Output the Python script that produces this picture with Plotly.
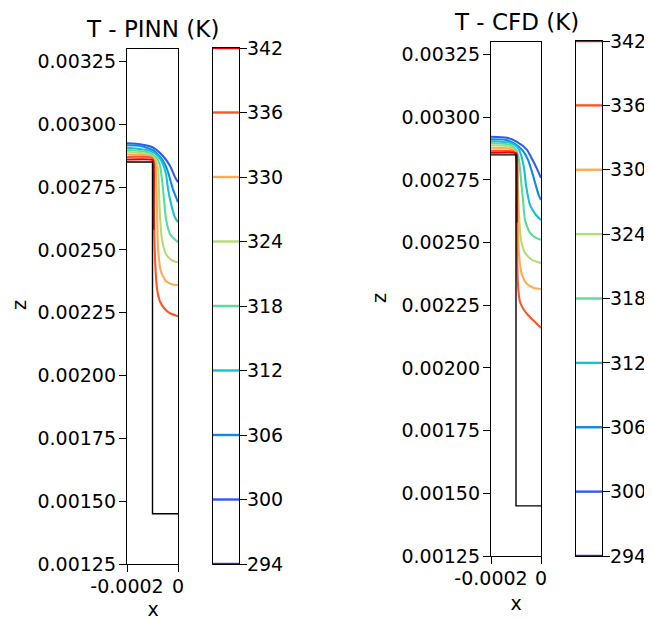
import plotly.graph_objects as go

# ---------------- data ----------------
levels = [294, 300, 306, 312, 318, 324, 330, 336, 342]
titles = ["T - PINN (K)", "T - CFD (K)"]
z_ticks = [0.00125, 0.00150, 0.00175, 0.00200, 0.00225, 0.00250, 0.00275, 0.00300, 0.00325]
z_tick_text = ["0.00125", "0.00150", "0.00175", "0.00200", "0.00225", "0.00250", "0.00275", "0.00300", "0.00325"]
x_ticks = [-0.0002, 0.0]
x_tick_text = ["-0.0002", "0"]

# step-shaped solid boundary
step_x = [-0.0002, -0.0001, -0.0001, 0.0]
step_z = [0.00285, 0.00285, 0.00145, 0.00145]

# PINN contour lines (x, z) per level
pinn_300_x = [-0.0002, -0.000149, -0.000100, -0.000059, -0.000031, -0.000012, 0.0]
pinn_300_z = [0.002925, 0.002921, 0.002909, 0.002874, 0.002834, 0.002790, 0.002770]
pinn_306_x = [-0.0002, -0.000149, -0.000098, -0.000063, -0.000043, -0.000031, -0.000020, -0.000008, 0.0]
pinn_306_z = [0.002917, 0.002915, 0.002897, 0.002862, 0.002822, 0.002782, 0.002742, 0.002710, 0.002690]
pinn_312_x = [-0.0002, -0.000110, -0.000078, -0.000059, -0.000047, -0.000039, -0.000027, -0.000012, 0.0]
pinn_312_z = [0.002907, 0.002895, 0.002874, 0.002842, 0.002802, 0.002742, 0.002682, 0.002630, 0.002611]
pinn_318_x = [-0.0002, -0.000118, -0.000086, -0.000071, -0.000063, -0.000055, -0.000047, -0.000031, 0.0]
pinn_318_z = [0.002899, 0.002889, 0.002870, 0.002838, 0.002782, 0.002702, 0.002623, 0.002563, 0.002531]
pinn_324_x = [-0.0002, -0.000118, -0.000090, -0.000078, -0.000075, -0.000071, -0.000063, -0.000047, -0.000024, 0.0]
pinn_324_z = [0.002891, 0.002881, 0.002862, 0.002822, 0.002742, 0.002642, 0.002543, 0.002483, 0.002459, 0.002451]
pinn_330_x = [-0.0002, -0.000110, -0.000090, -0.000086, -0.000082, -0.000078, -0.000067, -0.000047, -0.000024, 0.0]
pinn_330_z = [0.002881, 0.002874, 0.002854, 0.002802, 0.002662, 0.002503, 0.002415, 0.002376, 0.002364, 0.002360]
pinn_336_x = [-0.0002, -0.000102, -0.000095, -0.000095, -0.000090, -0.000082, -0.000071, -0.000051, -0.000031, 0.0]
pinn_336_z = [0.002870, 0.002866, 0.002842, 0.002702, 0.002463, 0.002344, 0.002296, 0.002264, 0.002248, 0.002236]
pinn_342_x = [-0.0002, -0.0000985, -0.000096, -0.000096]
pinn_342_z = [0.002860, 0.002858, 0.002842, 0.002580]

# CFD contour lines (x, z) per level
cfd_300_x = [-0.0002, -0.000136, -0.000096, -0.000056, -0.000032, -0.000016, 0.0]
cfd_300_z = [0.002922, 0.002918, 0.002902, 0.002870, 0.002826, 0.002794, 0.002758]
cfd_306_x = [-0.0002, -0.000144, -0.000104, -0.000072, -0.000052, -0.000036, -0.000020, -0.000008, 0.0]
cfd_306_z = [0.002912, 0.002910, 0.002894, 0.002866, 0.002830, 0.002782, 0.002726, 0.002686, 0.002670]
cfd_312_x = [-0.0002, -0.000124, -0.000096, -0.000080, -0.000068, -0.000060, -0.000044, -0.000020, 0.0]
cfd_312_z = [0.002904, 0.002898, 0.002882, 0.002850, 0.002798, 0.002730, 0.002650, 0.002610, 0.002590]
cfd_318_x = [-0.0002, -0.000124, -0.000100, -0.000088, -0.000080, -0.000072, -0.000064, -0.000044, -0.000020, 0.0]
cfd_318_z = [0.002896, 0.002890, 0.002870, 0.002830, 0.002750, 0.002670, 0.002590, 0.002539, 0.002519, 0.002511]
cfd_324_x = [-0.0002, -0.000124, -0.000104, -0.000096, -0.000092, -0.000088, -0.000080, -0.000064, -0.000036, 0.0]
cfd_324_z = [0.002888, 0.002882, 0.002862, 0.002810, 0.002710, 0.002610, 0.002511, 0.002459, 0.002431, 0.002419]
cfd_330_x = [-0.0002, -0.000116, -0.000100, -0.000096, -0.000092, -0.000088, -0.000076, -0.000056, -0.000028, 0.0]
cfd_330_z = [0.002878, 0.002872, 0.002850, 0.002750, 0.002590, 0.002451, 0.002371, 0.002335, 0.002319, 0.002315]
cfd_336_x = [-0.0002, -0.000108, -0.000097, -0.000097, -0.000096, -0.000092, -0.000084, -0.000068, -0.000052, -0.000032, -0.000012, 0.0]
cfd_336_z = [0.002866, 0.002862, 0.002838, 0.002670, 0.002471, 0.002331, 0.002263, 0.002231, 0.002211, 0.002191, 0.002171, 0.002159]
cfd_342_x = [-0.0002, -0.0000985, -0.000096, -0.000096]
cfd_342_z = [0.002858, 0.002856, 0.002838, 0.002580]

pinn_lines = [(300, pinn_300_x, pinn_300_z), (306, pinn_306_x, pinn_306_z), (312, pinn_312_x, pinn_312_z),
              (318, pinn_318_x, pinn_318_z), (324, pinn_324_x, pinn_324_z), (330, pinn_330_x, pinn_330_z),
              (336, pinn_336_x, pinn_336_z), (342, pinn_342_x, pinn_342_z)]
cfd_lines = [(300, cfd_300_x, cfd_300_z), (306, cfd_306_x, cfd_306_z), (312, cfd_312_x, cfd_312_z),
             (318, cfd_318_x, cfd_318_z), (324, cfd_324_x, cfd_324_z), (330, cfd_330_x, cfd_330_z),
             (336, cfd_336_x, cfd_336_z), (342, cfd_342_x, cfd_342_z)]

# ---------------- styling ----------------
LEVEL_COLORS = {
    294: "rgb(118,0,220)", 300: "rgb(50,90,235)", 306: "rgb(10,140,230)",
    312: "rgb(20,195,210)", 318: "rgb(90,220,155)", 324: "rgb(180,220,115)",
    330: "rgb(255,170,85)", 336: "rgb(255,85,40)", 342: "rgb(235,0,0)",
}

OFF = 8                      # default page body margin
W, H = 652 - OFF, 620 - OFF  # figure fits exactly inside the window
FONT = "DejaVu Sans"
TICKFONT = dict(family=FONT, size=19, color="black")


def px(xp):
    return (xp - OFF) / W


def py(yp):
    return 1 - (yp - OFF) / H


panels = [
    dict(ax=(127, 178), ay=(49, 564), cx=(213, 239), cy=(48, 564), lines=pinn_lines,
         title_xy=(152, 29), zlab=(19, 305), xlab=(153, 609)),
    dict(ax=(491, 541), ay=(42, 556), cx=(576, 602), cy=(41, 556), lines=cfd_lines,
         title_xy=(516, 22), zlab=(379, 298), xlab=(516, 603)),
]

fig = go.Figure()
layout = dict(width=W, height=H, autosize=False, margin=dict(l=0, r=0, t=0, b=0, pad=0),
              showlegend=False, paper_bgcolor="white", plot_bgcolor="white",
              font=dict(family=FONT, color="black"))
annotations = []

for i, p in enumerate(panels):
    mi = 2 * i + 1
    ci = 2 * i + 2
    xa = "x" if mi == 1 else "x%d" % mi
    ya = "y" if mi == 1 else "y%d" % mi
    xc = "x%d" % ci
    yc = "y%d" % ci
    common = dict(ticks="outside", ticklen=7, tickwidth=1.2, tickcolor="black",
                  showline=True, linecolor="black", linewidth=1.3, mirror=True,
                  showgrid=False, zeroline=False, tickfont=TICKFONT, automargin=False)
    layout["xaxis" if mi == 1 else "xaxis%d" % mi] = dict(
        domain=[px(p["ax"][0]), px(p["ax"][1])], range=[-0.0002, 0.0], anchor=ya,
        tickvals=x_ticks, ticktext=x_tick_text, ticklabelstandoff=-2, **common)
    layout["yaxis" if mi == 1 else "yaxis%d" % mi] = dict(
        domain=[py(p["ay"][1]), py(p["ay"][0])], range=[0.00125, 0.0033], anchor=xa,
        tickvals=z_ticks, ticktext=z_tick_text, ticklabelstandoff=-1, **common)
    layout["xaxis%d" % ci] = dict(
        domain=[px(p["cx"][0]), px(p["cx"][1])], range=[0, 1], anchor=yc,
        showticklabels=False, ticks="", showline=True, linecolor="black", linewidth=1.3,
        mirror=True, showgrid=False, zeroline=False, automargin=False)
    layout["yaxis%d" % ci] = dict(
        domain=[py(p["cy"][1]), py(p["cy"][0])], range=[levels[0], levels[-1]], anchor=xc,
        side="right", tickvals=levels, ticklabelstandoff=-4, **common)

    for lev, lx, lz in p["lines"]:
        fig.add_trace(go.Scatter(x=lx, y=lz, mode="lines", xaxis=xa, yaxis=ya,
                                 line=dict(color=LEVEL_COLORS[lev], width=2.1, shape="spline",
                                           smoothing=0.6),
                                 hoverinfo="skip"))
    fig.add_trace(go.Scatter(x=step_x, y=step_z, mode="lines", xaxis=xa, yaxis=ya,
                             line=dict(color="black", width=1.4), hoverinfo="skip"))
    for lev in levels:
        fig.add_trace(go.Scatter(x=[0, 1], y=[lev, lev], mode="lines", xaxis=xc, yaxis=yc,
                                 line=dict(color=LEVEL_COLORS[lev], width=2.4), hoverinfo="skip",
                                 cliponaxis=False))

    annotations.append(dict(text=titles[i], x=px(p["title_xy"][0]), y=py(p["title_xy"][1]),
                            xref="paper", yref="paper", showarrow=False,
                            font=dict(family=FONT, size=23, color="black"),
                            xanchor="center", yanchor="middle"))
    annotations.append(dict(text="z", x=px(p["zlab"][0]), y=py(p["zlab"][1]), textangle=-90,
                            xref="paper", yref="paper", showarrow=False,
                            font=dict(family=FONT, size=19, color="black"),
                            xanchor="center", yanchor="middle"))
    annotations.append(dict(text="x", x=px(p["xlab"][0]), y=py(p["xlab"][1]),
                            xref="paper", yref="paper", showarrow=False, height=18, width=14,
                            font=dict(family=FONT, size=19, color="black"),
                            xanchor="center", yanchor="middle"))

layout["annotations"] = annotations
fig.update_layout(**layout)
fig.write_html("out.html")
